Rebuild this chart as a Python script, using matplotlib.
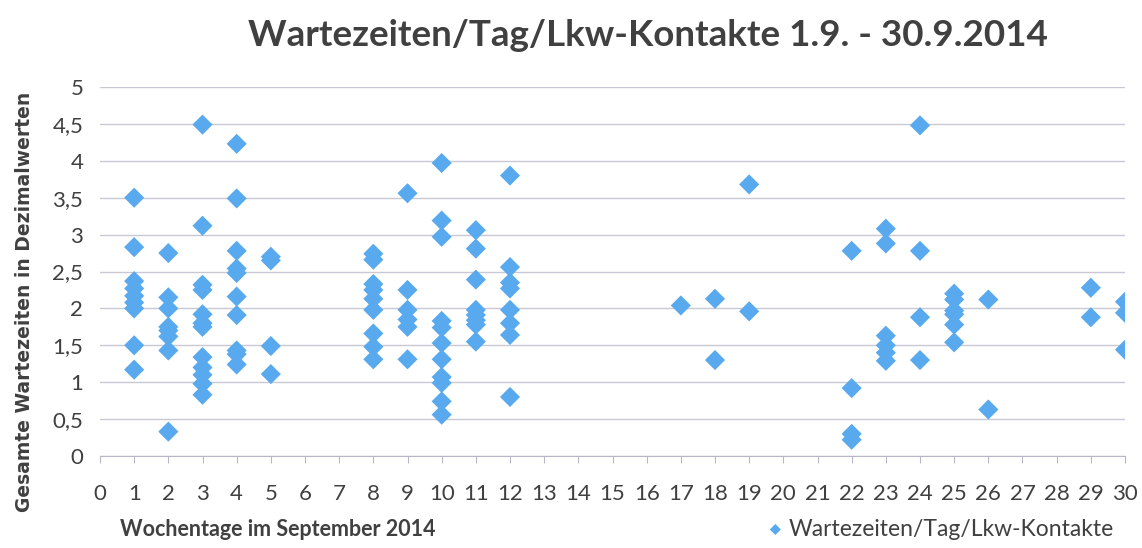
import matplotlib
matplotlib.use("Agg")
import matplotlib.pyplot as plt
import numpy as np

# Tage im September 2014 und die Wartezeiten je Lkw-Kontakt
tage = [1, 2, 3, 4, 5, 8, 9, 10, 11, 12, 17, 18, 19, 22, 23, 24, 25, 26, 29, 30]
werte = [
    [3.5, 2.83, 2.37, 2.27, 2.17, 2.08, 2.0, 1.5, 1.17],
    [2.75, 2.15, 2.0, 1.75, 1.7, 1.62, 1.43, 0.33],
    [4.49, 3.12, 2.32, 2.25, 1.92, 1.8, 1.75, 1.34, 1.2, 1.1, 0.98, 0.83],
    [4.23, 3.49, 2.78, 2.54, 2.48, 2.16, 1.91, 1.43, 1.38, 1.24],
    [2.7, 2.65, 1.49, 1.11],
    [2.74, 2.66, 2.33, 2.25, 2.13, 1.98, 1.66, 1.48, 1.31],
    [3.56, 2.25, 1.98, 1.85, 1.75, 1.31],
    [3.97, 3.19, 2.97, 1.83, 1.74, 1.53, 1.31, 1.07, 0.99, 0.74, 0.56],
    [3.06, 2.81, 2.39, 1.98, 1.91, 1.84, 1.78, 1.55],
    [3.8, 2.56, 2.35, 2.27, 1.98, 1.8, 1.64, 0.8],
    [2.04],
    [2.13, 1.3],
    [3.68, 1.96],
    [2.78, 0.92, 0.3, 0.22],
    [3.08, 2.88, 1.63, 1.5, 1.4, 1.29],
    [4.48, 2.78, 1.88, 1.3],
    [2.2, 2.12, 1.97, 1.92, 1.78, 1.54],
    [2.12, 0.63],
    [2.28, 1.88],
    [2.09, 1.94, 1.44],
]
x_ticks = list(range(0, 31))
y_ticks = [0, 0.5, 1, 1.5, 2, 2.5, 3, 3.5, 4, 4.5, 5]
y_labels = ["0", "0,5", "1", "1,5", "2", "2,5", "3", "3,5", "4", "4,5", "5"]

xs = np.concatenate([[t] * len(w) for t, w in zip(tage, werte)])
ys = np.concatenate(werte)

fig = plt.figure(figsize=(11.42, 5.48), dpi=100)
ax = fig.add_axes([100 / 1142, 1 - 456 / 548, 1025 / 1142, 369 / 548])

blau = "#58a9ee"
ax.scatter(xs, ys, marker="D", s=105, color=blau, edgecolors="none", zorder=3,
           label="Wartezeiten/Tag/Lkw-Kontakte")

ax.set_xlim(0, 30)
ax.set_ylim(0, 5)
ax.set_xticks(x_ticks)
ax.set_yticks(y_ticks)
ax.set_yticklabels(y_labels)
ax.grid(axis="y", color="#c9c9d6", linewidth=1)
ax.set_axisbelow(True)
for s in ["top", "right", "left"]:
    ax.spines[s].set_visible(False)
ax.spines["bottom"].set_color("#b8b8c4")
ax.tick_params(axis="x", length=5, color="#b8b8c4", pad=15, labelsize=16,
               labelcolor="#404040")
ax.tick_params(axis="y", length=0, pad=12, labelsize=16, labelcolor="#404040")
for lab in ax.get_xticklabels() + ax.get_yticklabels():
    lab.set_family("Lato")

fig.text(0.567, 0.935, "Wartezeiten/Tag/Lkw-Kontakte 1.9. - 30.9.2014",
         ha="center", va="center", fontsize=26.5, fontweight="bold",
         color="#404040", family="Lato")
fig.text(25 / 1142, 1 - 302 / 548, "Gesamte Wartezeiten in Dezimalwerten",
         rotation=90, ha="center", va="center", fontsize=13.5,
         fontweight="bold", color="#404040", family="DejaVu Sans")
fig.text(120 / 1142, 1 - 530 / 548, "Wochentage im September 2014",
         ha="left", va="center", fontsize=15.5, fontweight="bold",
         color="#404040", family="Lato")

leg = ax.legend(loc="center left", bbox_to_anchor=(757 / 1142, 1 - 529 / 548),
                bbox_transform=fig.transFigure, frameon=False, handlelength=0.6,
                handletextpad=0.3, borderpad=0, markerscale=0.55,
                prop={"family": "Lato", "size": 16.5})
for t in leg.get_texts():
    t.set_color("#404040")

fig.savefig("out.png", dpi=100)
